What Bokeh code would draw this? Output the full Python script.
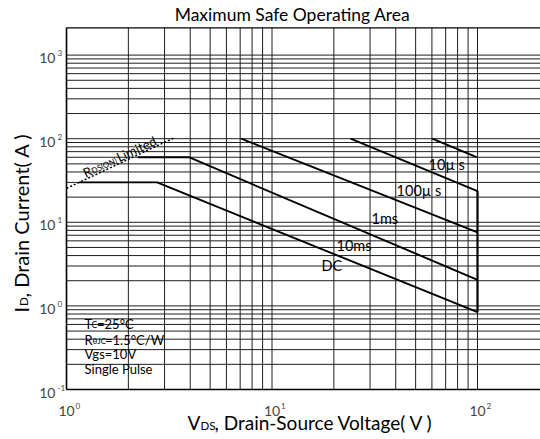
import math
from bokeh.plotting import figure
from bokeh.models import Range1d, Label, LabelSet, ColumnDataSource
from bokeh.embed import file_html
from bokeh.resources import INLINE
from bokeh.core.properties import value

FONT = "Lato"

# ---------------- data ----------------
# plotted area (axis limits of the chart)
area_x = (1.0, 202.6)
area_y = (0.1, 2120.0)

x_grid_vals = [1, 2, 3, 4, 5, 6, 7, 8, 9,
               10, 20, 30, 40, 50, 60, 70, 80, 90, 100]
y_grid_vals = [0.2, 0.3, 0.4, 0.5, 0.6, 0.7, 0.8, 0.9,
               1, 2, 3, 4, 5, 6, 7, 8, 9,
               10, 20, 30, 40, 50, 60, 70, 80, 90,
               100, 200, 300, 400, 500, 600, 700, 800, 900, 1000]

x_tick_vals = [1, 10, 100]
x_tick_exp = ["0", "1", "2"]
y_tick_vals = [0.1, 1, 10, 100, 1000]
y_tick_exp = ["-1", "0", "1", "2", "3"]

rds_v = [1.0, 3.33]
rds_i = [25.5, 102.0]

dc_v = [1.15, 2.76, 100]
dc_i = [30, 30, 0.84]
ms10_v = [2.22, 3.94, 100]
ms10_i = [60, 60, 2.05]
ms1_v = [7.08, 100]
ms1_i = [100, 7.6]
us100_v = [24.1, 100]
us100_i = [100, 23.6]
us10_v = [60.2, 99]
us10_i = [100, 60.1]
vlimit_v = [100, 100]
vlimit_i = [0.84, 23.6]

curve_labels = ["10µ s", "100µ s", "1ms", "10ms", "DC"]
curve_label_v = [57.8, 40.4, 30.5, 20.6, 17.4]
curve_label_i = [49.1, 24.0, 11.1, 5.28, 3.04]

# ---------------- figure ----------------
# the Bokeh frame covers the whole canvas; the chart area is drawn inside it
W, H = 540, 439
LEFT, BOTTOM = 66, 389          # pixel position of (1, 0.1)
DEC_X, DEC_Y = 205.5, 83.6      # pixels per decade
x_rng = (10 ** (-LEFT / DEC_X), 10 ** ((W - LEFT) / DEC_X))
y_rng = (10 ** (-1 - (H - BOTTOM) / DEC_Y), 10 ** (-1 + BOTTOM / DEC_Y))

p = figure(width=W, height=H, x_axis_type="log", y_axis_type="log",
           x_range=Range1d(*x_rng), y_range=Range1d(*y_rng),
           output_backend="svg", toolbar_location=None, title=None,
           x_axis_location=None, y_axis_location=None,
           min_border_left=0, min_border_right=0, min_border_top=0,
           min_border_bottom=0, outline_line_color=None,
           background_fill_color="white", border_fill_color="white")
p.grid.visible = False

GRID_COLOR = "#1e1e1e"
# vertical grid lines
p.segment(x0=x_grid_vals, y0=[area_y[0]] * len(x_grid_vals),
          x1=x_grid_vals, y1=[area_y[1]] * len(x_grid_vals),
          line_color=GRID_COLOR, line_width=1)
# horizontal grid lines
p.segment(x0=[area_x[0]] * len(y_grid_vals), y0=y_grid_vals,
          x1=[area_x[1]] * len(y_grid_vals), y1=y_grid_vals,
          line_color=GRID_COLOR, line_width=1)
# borders: left, bottom, top
p.segment(x0=[area_x[0]], y0=[area_y[0]], x1=[area_x[0]], y1=[area_y[1]],
          line_color="black", line_width=1.6)
p.segment(x0=[area_x[0]], y0=[area_y[0]], x1=[area_x[1]], y1=[area_y[0]],
          line_color="black", line_width=1.6)
p.segment(x0=[area_x[0]], y0=[area_y[1]], x1=[area_x[1]], y1=[area_y[1]],
          line_color="black", line_width=1.2)

# curves
LW = 1.9
p.line(rds_v, rds_i, line_color="black", line_width=1.5, line_dash="2 2")
p.line(dc_v, dc_i, line_color="black", line_width=LW)
p.line(ms10_v, ms10_i, line_color="black", line_width=LW)
p.line(ms1_v, ms1_i, line_color="black", line_width=LW)
p.line(us100_v, us100_i, line_color="black", line_width=LW)
p.line(us10_v, us10_i, line_color="black", line_width=LW)
p.line(vlimit_v, vlimit_i, line_color="black", line_width=2.2)

# curve labels
src_cl = ColumnDataSource(dict(x=curve_label_v, y=curve_label_i, t=curve_labels))
p.add_layout(LabelSet(x="x", y="y", text="t", source=src_cl, text_font=value(FONT),
                      text_font_size="14.5px", text_color="black",
                      text_align="left", text_baseline="middle"))

# tick labels
TICK_FS = "14px"
EXP_FS = "8px"
src_xt = ColumnDataSource(dict(x=x_tick_vals, y=[area_y[0]] * len(x_tick_vals),
                               b=["10"] * len(x_tick_vals), e=x_tick_exp))
p.add_layout(LabelSet(x="x", y="y", text="b", source=src_xt, text_font=value(FONT),
                      text_font_size=TICK_FS, text_align="center", text_baseline="middle",
                      y_offset=-21))
p.add_layout(LabelSet(x="x", y="y", text="e", source=src_xt, text_font=value(FONT),
                      text_font_size=EXP_FS, text_align="left", text_baseline="middle",
                      x_offset=9, y_offset=-16))

src_yt = ColumnDataSource(dict(x=[area_x[0]] * len(y_tick_vals), y=y_tick_vals,
                               b=["10"] * len(y_tick_vals), e=y_tick_exp))
p.add_layout(LabelSet(x="x", y="y", text="b", source=src_yt, text_font=value(FONT),
                      text_font_size=TICK_FS, text_align="right", text_baseline="middle",
                      x_offset=-11, y_offset=-3))
p.add_layout(LabelSet(x="x", y="y", text="e", source=src_yt, text_font=value(FONT),
                      text_font_size=EXP_FS, text_align="left", text_baseline="middle",
                      x_offset=-9, y_offset=2))


def lab(x, y, text, size, dx=0, dy=0, align="left", baseline="middle", angle=0, color="black"):
    p.add_layout(Label(x=x, y=y, text=text, text_font=FONT, text_font_size=size,
                       text_align=align, text_baseline=baseline, x_offset=dx, y_offset=dy,
                       angle=angle, angle_units="deg", text_color=color))


# title (centred over the chart area, just above it)
lab(area_x[0], area_y[1], "Maximum Safe Operating Area", "17.5px",
    dx=226, dy=13, align="center")

# x axis label: V_DS, Drain-Source Voltage( V )
xl_dx = 121
lab(area_x[0], area_y[0], "V", "19px", dx=xl_dx, dy=-33)
lab(area_x[0], area_y[0], "DS", "11.5px", dx=xl_dx + 13, dy=-35.5)
lab(area_x[0], area_y[0], ", Drain-Source Voltage( V )", "19px", dx=xl_dx + 27, dy=-33)

# y axis label: I_D, Drain Current( A )  (rotated)
yl_i = 0.834
lab(area_x[0], yl_i, "I", "20px", dx=-46, dy=0, angle=90)
lab(area_x[0], yl_i, "D", "11.5px", dx=-43, dy=6.5, angle=90)
lab(area_x[0], yl_i, ", Drain Current( A )", "20px", dx=-46, dy=15, angle=90)

# R_DS(ON) Limited (rotated along the dotted line)
ang = 25.0
ca, sa = math.cos(math.radians(ang)), math.sin(math.radians(ang))
r_v, r_i = 1.21, 38.4


def rot(d, s):
    return d * ca + s * sa, d * sa - s * ca


for txt, size, d, s in [("R", "13px", 0, 0), ("DS(ON)", "8px", 8.5, 1.5), ("Limited", "13px", 37, 0)]:
    ox, oy = rot(d, s)
    lab(r_v, r_i, txt, size, dx=ox, dy=oy, baseline="alphabetic", angle=ang)

# condition notes
note_v = 1.224
lab(note_v, 0.611, "T", "13px")
lab(note_v, 0.611, "C", "8.5px", dx=7, dy=-1)
lab(note_v, 0.611, "=25°C", "13px", dx=12.5)
lab(note_v, 0.393, "R", "13px")
lab(note_v, 0.393, "θJC", "8px", dx=8, dy=-1)
lab(note_v, 0.393, "=1.5°C/W", "13px", dx=20.5)
lab(note_v, 0.267, "Vgs=10V", "13px")
lab(note_v, 0.178, "Single Pulse", "13px")

open("out.html", "w").write(file_html(p, INLINE))
